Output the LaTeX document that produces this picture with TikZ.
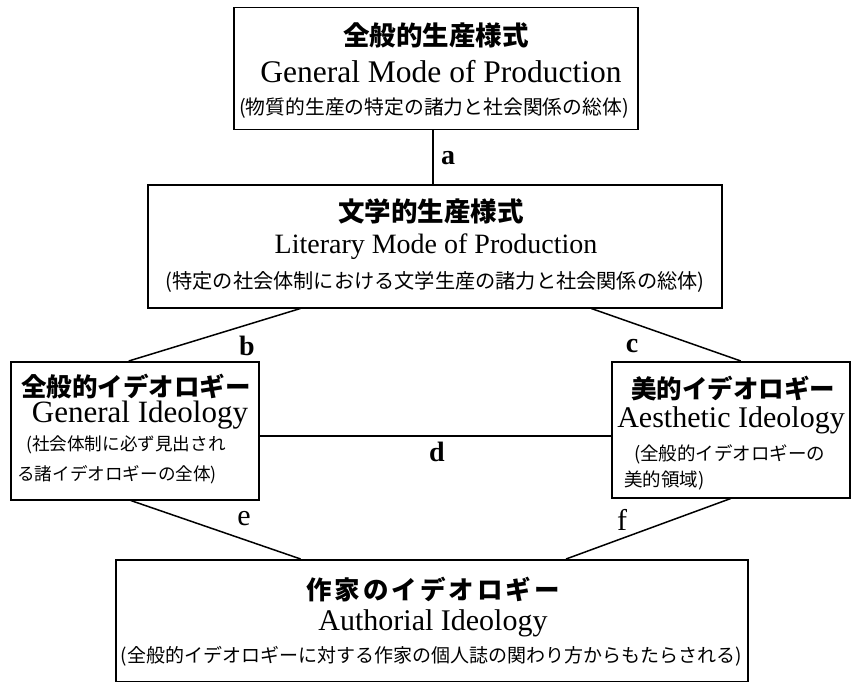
\documentclass[tikz,border=0pt]{standalone}
\usepackage{fontspec}
\setmainfont{Liberation Serif}
\newfontfamily\cjk{Noto Sans CJK JP}
\usetikzlibrary{calc}
\begin{document}
\begin{tikzpicture}[x=1pt,y=-1pt,
  box/.style={draw, line width=1.5pt, inner sep=0pt, anchor=north west},
  jt/.style={font=\cjk\bfseries\fontsize{25.5}{30}\selectfont, inner sep=0pt},
  en/.style={font=\fontsize{30}{36}\selectfont, inner sep=0pt},
  jp/.style={font=\cjk\fontsize{18.5}{22}\selectfont, inner sep=0pt},
  lab/.style={font=\bfseries\fontsize{28}{32}\selectfont, inner sep=0pt},
  labr/.style={font=\fontsize{30}{32}\selectfont, inner sep=0pt},
  conn/.style={line width=1.5pt}]
\useasboundingbox (0,0) rectangle (851,682);

% boxes
\node[box, minimum width=404pt, minimum height=122pt] (g1) at (233,7) {};
\node[box, minimum width=574pt, minimum height=123pt] (g2) at (147,184) {};
\node[box, minimum width=248pt, minimum height=138pt] (g3) at (10,361) {};
\node[box, minimum width=238pt, minimum height=136pt] (g4) at (611,361) {};
\node[box, minimum width=632pt, minimum height=122pt] (g5) at (115,559) {};

% box 1
\node[jt, font=\cjk\bfseries\fontsize{26.5}{30}\selectfont] (t1) at (436,35) {全般的生産様式};
\node[en, font=\fontsize{31.5}{36}\selectfont] (e1) at (441,72) {General Mode of Production};
\node[jp, font=\cjk\fontsize{19.8}{22}\selectfont] (p1) at (434,108) {(物質的生産の特定の諸力と社会関係の総体)};
% box 2
\node[jt, font=\cjk\bfseries\fontsize{26.5}{30}\selectfont] (t2) at (431,211) {文学的生産様式};
\node[en, font=\fontsize{28}{34}\selectfont] (e2) at (436,247) {Literary Mode of Production};
\node[jp, font=\cjk\fontsize{20.2}{22}\selectfont] (p2) at (435,282) {(特定の社会体制における文学生産の諸力と社会関係の総体)};
% box 3
\node[jt] (t3) at (136,387) {全般的イデオロギー};
\node[en, font=\fontsize{31}{36}\selectfont] (e3) at (140,415) {General Ideology};
\node[jp, font=\cjk\fontsize{17.6}{22}\selectfont, anchor=west] (p3a) at (26,445) {(社会体制に必ず見出され};
\node[jp, font=\cjk\fontsize{17.6}{22}\selectfont, anchor=west] (p3b) at (17,475) {る諸イデオロギーの全体)};
% box 4
\node[jt] (t4) at (733,389) {美的イデオロギー};
\node[en] (e4) at (731,420) {Aesthetic Ideology};
\node[jp, anchor=west] (p4a) at (634,454) {(全般的イデオロギーの};
\node[jp, anchor=west] (p4b) at (624,481) {美的領域)};
% box 5
\node[jt, font=\cjk\bfseries\addfontfeature{LetterSpace=12}\fontsize{25.5}{30}\selectfont] (t5) at (433,590) {作家のイデオロギー};
\node[en] (e5) at (433,623) {Authorial Ideology};
\node[jp, font=\cjk\fontsize{19}{22}\selectfont] (p5) at (431,656) {(全般的イデオロギーに対する作家の個人誌の関わり方からもたらされる)};

% connectors
\draw[conn] (g1.south -| 433,0) -- (g2.north -| 433,0);
\draw[conn] ($(g2.south west)!0.2666!(g2.south east)$) -- ($(g3.north west)!0.476!(g3.north east)$);
\draw[conn] ($(g2.south west)!0.772!(g2.south east)$) -- ($(g4.north west)!0.542!(g4.north east)$);
\draw[conn] ([yshift=-5pt]g3.east) -- ([yshift=-5pt]g3.east -| g4.west);
\draw[conn] ($(g3.south west)!0.484!(g3.south east)$) -- ($(g5.north west)!0.293!(g5.north east)$);
\draw[conn] ($(g4.south west)!0.5!(g4.south east)$) -- ($(g5.north west)!0.712!(g5.north east)$);

% labels
\node[lab] (la) at (448,158) {a};
\node[lab] (lb) at (247,346) {b};
\node[lab] (lc) at (632,346) {c};
\node[lab] (ld) at (437,452) {d};
\node[labr] (le) at (244,519) {e};
\node[labr] (lf) at (622,520) {f};
\end{tikzpicture}
\end{document}
